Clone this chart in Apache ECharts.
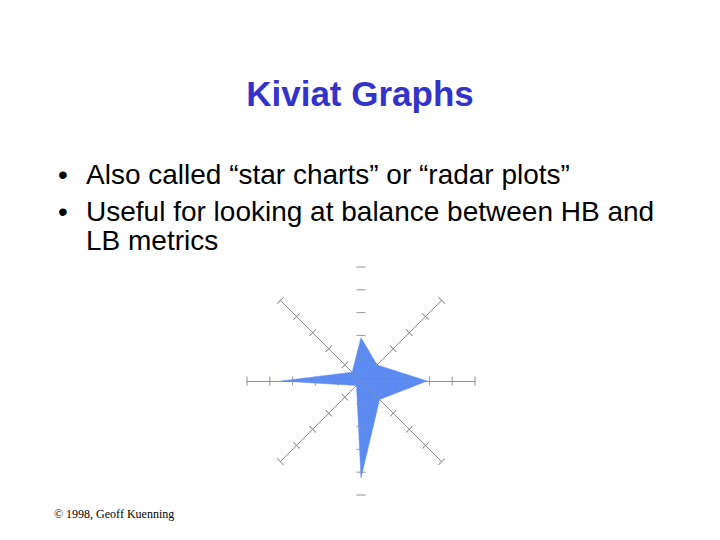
<!DOCTYPE html>
<html>
<head>
<meta charset="utf-8">
<script src="https://cdn.jsdelivr.net/npm/echarts@6/dist/echarts.min.js"></script>
<style>html,body{margin:0;padding:0;background:#fff;}#c{width:720px;height:540px;}</style>
</head>
<body>
<div id="c"></div>
<script>
// Data
const titleText = 'Kiviat Graphs';
const bulletLines = ['Also called \u201cstar charts\u201d or \u201cradar plots\u201d', 'Useful for looking at balance between HB and', 'LB metrics'];
const footerText = '\u00a9 1998, Geoff Kuenning';
// axes counterclockwise from top
const axisNames = ['N', 'NW', 'W', 'SW', 'S', 'SE', 'E', 'NE'];
const axisMax = 5;
const values = [1.9, 0.55, 3.5, 0.28, 4.25, 1.15, 2.9, 1.0];
// tick marks on every axis
const tickValues = [1, 2, 3, 4, 5];
const tickAngles = [0, 45, 90, 135, 180, 225, 270, 315];

const chart = echarts.init(document.getElementById('c'), null, {renderer: 'svg'});
const center = [361, 381];
const R = 114;
const gray = '#8a8a8a';
const grayFaint = 'rgba(150,150,150,0.35)';

function radarCfg(n, startAngle, showLine, color, z) {
  const ind = [];
  for (let i = 0; i < n; i++) ind.push({name: '', max: axisMax, min: 0});
  return {
    center: center, radius: R, startAngle: startAngle, splitNumber: 5, z: z,
    indicator: ind,
    axisName: {show: false},
    splitLine: {show: false}, splitArea: {show: false},
    axisLine: {show: showLine, lineStyle: {color: color, width: 1}},
    axisTick: {show: false},
    axisLabel: {show: false}
  };
}

const tickData = [];
tickAngles.forEach(function (a) {
  tickValues.forEach(function (v) {
    tickData.push({value: [v, a], symbolRotate: a});
  });
});

const option = {
  backgroundColor: '#fff',
  animation: false,
  radar: [
    Object.assign(radarCfg(8, 90, false, gray, 2), {indicator: axisNames.map(n => ({name: n, max: axisMax, min: 0}))}),
    radarCfg(2, 0, true, gray, 1),    // horizontal axis line
    radarCfg(4, 45, true, gray, 1),   // diagonal axis lines
    radarCfg(2, 0, true, grayFaint, 5),   // faint overlay on top of the shape
    radarCfg(4, 45, true, grayFaint, 5)
  ],
  polar: {center: center, radius: R},
  angleAxis: {type: 'value', min: 0, max: 360, startAngle: 0, clockwise: false, show: false},
  radiusAxis: {type: 'value', min: 0, max: axisMax, show: false},
  series: [{
    type: 'radar', radarIndex: 0, symbol: 'none', z: 2,
    lineStyle: {width: 0.5, color: '#5b8af0'},
    areaStyle: {color: '#5b8af0', opacity: 1},
    data: [{value: values, name: 'metrics'}]
  }, {
    type: 'scatter', coordinateSystem: 'polar', symbol: 'rect', symbolSize: [1, 9], z: 1,
    itemStyle: {color: gray},
    silent: true,
    data: tickData
  }, {
    type: 'scatter', coordinateSystem: 'polar', symbol: 'rect', symbolSize: [1, 9], z: 5,
    itemStyle: {color: grayFaint},
    silent: true,
    data: tickData
  }],
  graphic: [
    {type: 'text', left: 'center', top: 76, style: {text: titleText, font: 'bold 35px "Liberation Sans", Arial, sans-serif', fill: '#3333cc'}},
    {type: 'text', x: 58, y: 160, style: {text: '\u2022', font: '28px "Liberation Sans", Arial, sans-serif', fill: '#000'}},
    {type: 'text', x: 86, y: 160, style: {text: bulletLines[0], font: '28px "Liberation Sans", Arial, sans-serif', fill: '#000'}},
    {type: 'text', x: 58, y: 197, style: {text: '\u2022', font: '28px "Liberation Sans", Arial, sans-serif', fill: '#000'}},
    {type: 'text', x: 86, y: 197, style: {text: bulletLines[1], font: '28px "Liberation Sans", Arial, sans-serif', fill: '#000'}},
    {type: 'text', x: 86, y: 226, style: {text: bulletLines[2], font: '28px "Liberation Sans", Arial, sans-serif', fill: '#000'}},
    {type: 'text', x: 54, y: 508, style: {text: footerText, font: '12px "Liberation Serif", "Times New Roman", serif', fill: '#000'}}
  ]
};
chart.setOption(option);
</script>
</body>
</html>
